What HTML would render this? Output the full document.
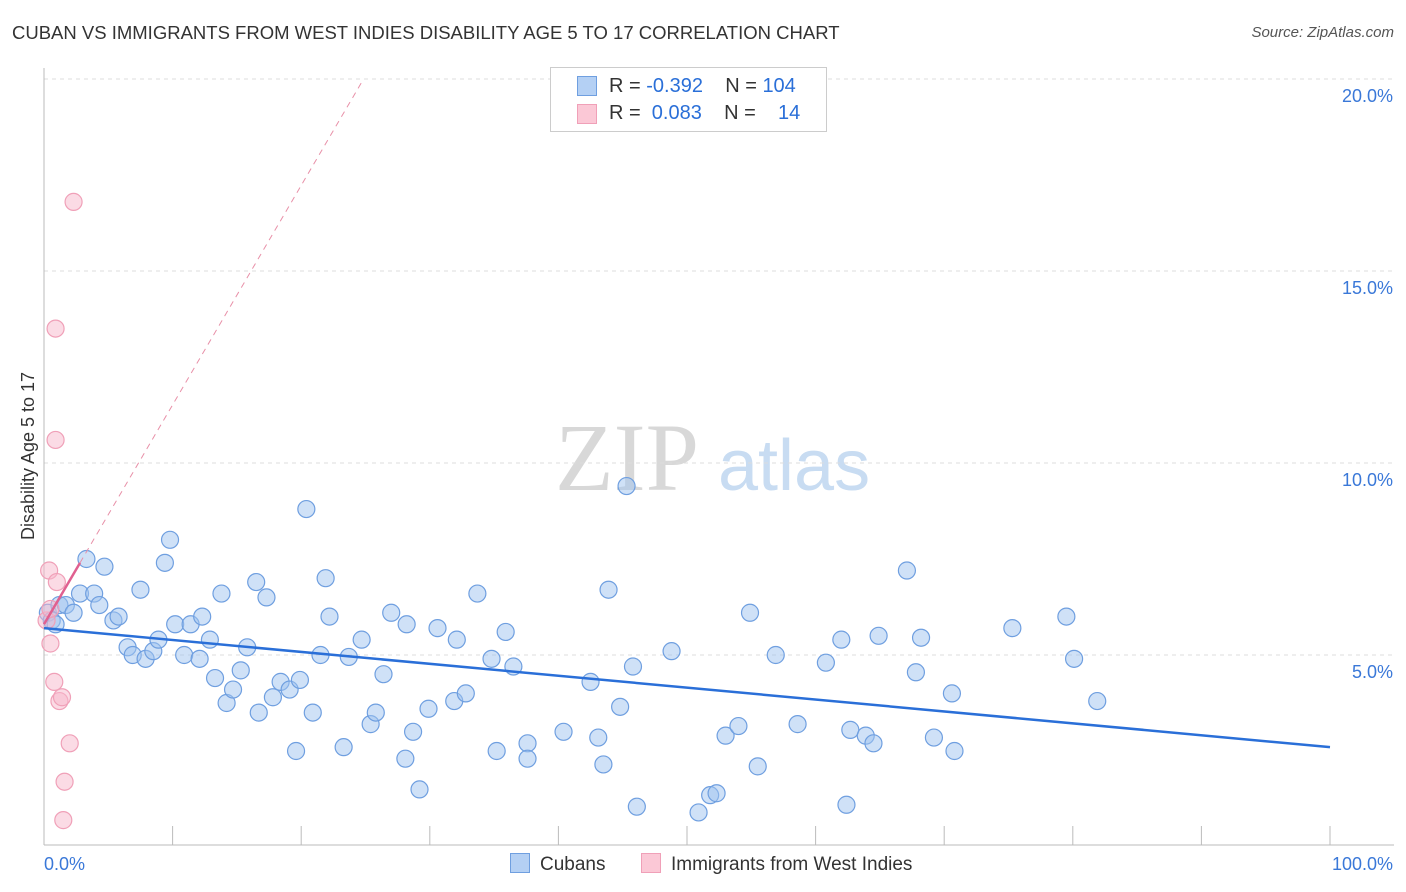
<!DOCTYPE html>
<html><head><meta charset="utf-8"><style>
body{margin:0;background:#fff;font-family:"Liberation Sans",sans-serif;}
#wrap{position:relative;width:1406px;height:892px;overflow:hidden;}
.t{position:absolute;white-space:nowrap;}
</style></head><body>
<div id="wrap">
<div class="t" style="left:12px;top:22px;font-size:18.5px;color:#333;">CUBAN VS IMMIGRANTS FROM WEST INDIES DISABILITY AGE 5 TO 17 CORRELATION CHART</div>
<div class="t" style="right:12px;top:24px;font-size:15px;color:#555;font-style:italic;">Source: ZipAtlas.com</div>
<svg id="svg" width="1406" height="892" style="position:absolute;left:0;top:0;"></svg>
</div>
<script>
const categories=["Cubans","Immigrants from West Indies"];
const yTicks=[5,10,15,20];
const yTickLabels=["5.0%","10.0%","15.0%","20.0%"];
const blueX=[0.3,0.6,0.9,1.2,1.7,2.3,2.8,3.3,3.9,4.3,4.7,5.4,5.8,6.5,6.9,7.5,7.9,8.5,8.9,9.4,9.8,10.2,10.9,11.4,12.1,12.3,12.9,13.3,13.8,14.2,14.7,15.3,15.8,16.5,16.7,17.3,17.8,18.4,19.1,19.6,19.9,20.4,20.9,21.5,21.9,22.2,23.3,23.7,24.7,25.4,25.8,26.4,27.0,28.1,28.2,28.7,29.2,29.9,30.6,31.9,32.1,32.8,33.7,34.8,35.2,35.9,36.5,37.6,37.6,40.4,42.5,43.1,43.5,43.9,44.8,45.3,45.8,46.1,48.8,50.9,51.8,52.3,53.0,54.0,54.9,55.5,56.9,58.6,60.8,62.0,62.4,62.7,63.9,64.5,64.9,67.1,67.8,68.2,69.2,70.6,70.8,75.3,79.5,80.1,81.9];
const blueY=[6.1,5.9,5.8,6.3,6.3,6.1,6.6,7.5,6.6,6.3,7.3,5.9,6.0,5.2,5.0,6.7,4.9,5.1,5.4,7.4,8.0,5.8,5.0,5.8,4.9,6.0,5.4,4.4,6.6,3.75,4.1,4.6,5.2,6.9,3.5,6.5,3.9,4.3,4.1,2.5,4.35,8.8,3.5,5.0,7.0,6.0,2.6,4.95,5.4,3.2,3.5,4.5,6.1,2.3,5.8,3.0,1.5,3.6,5.7,3.8,5.4,4.0,6.6,4.9,2.5,5.6,4.7,2.7,2.3,3.0,4.3,2.85,2.15,6.7,3.65,9.4,4.7,1.05,5.1,0.9,1.35,1.4,2.9,3.15,6.1,2.1,5.0,3.2,4.8,5.4,1.1,3.05,2.9,2.7,5.5,7.2,4.55,5.45,2.85,4.0,2.5,5.7,6.0,4.9,3.8];
const pinkX=[0.2,0.4,0.5,0.8,0.9,0.9,1.0,1.2,1.4,1.6,1.5,2.0,2.3,0.5];
const pinkY=[5.9,7.2,5.3,4.3,10.6,13.5,6.9,3.8,3.9,1.7,0.7,2.7,16.8,6.2];
const blueTrend=[5.7,2.6];
const pinkTrend=[5.8,7.4];
const X0=44,X1=1330,Y0=847,PY=38.4;
const sx=v=>X0+(X1-X0)*v/100, sy=v=>Y0-v*PY;
const svg=document.getElementById('svg');const NS='http://www.w3.org/2000/svg';
function el(t,a,p){const e=document.createElementNS(NS,t);for(const k in a)e.setAttribute(k,a[k]);(p||svg).appendChild(e);return e;}
let w=el('text',{x:555,y:490,'font-size':96,'font-family':'Liberation Serif',fill:'#d8d8d8'});w.textContent='ZIP';


let w2=el('text',{x:718,y:490,'font-size':72,'font-family':'Liberation Sans',fill:'#c8dcf2'});w2.textContent='atlas';


yTicks.forEach((v,i)=>{
 const g=el('line',{x1:X0,x2:1394,y1:sy(v),y2:sy(v),stroke:'#ddd','stroke-dasharray':'4,4'});
 
 
 const t=el('text',{x:1393,y:sy(v)+23,'text-anchor':'end','font-size':18,fill:'#3a78d8'});t.textContent=yTickLabels[i];
 
 
});
let ax=el('line',{x1:X0,x2:X0,y1:68,y2:845,stroke:'#bbb'});


let bx=el('line',{x1:X0,x2:1394,y1:845,y2:845,stroke:'#bbb'});


for(let i=1;i<=10;i++){const tk=el('line',{x1:sx(i*10),x2:sx(i*10),y1:826,y2:845,stroke:'#bbb'});
 
 }
let yt=el('text',{x:34,y:456,'font-size':18,fill:'#333','text-anchor':'middle',transform:'rotate(-90 34 456)'});yt.textContent='Disability Age 5 to 17';


[[0,'0.0%','start',44],[100,'100.0%','end',1393]].forEach(a=>{const t=el('text',{x:a[3],y:870,'font-size':18,fill:'#3a78d8','text-anchor':a[2]});t.textContent=a[1];
 
 });
blueX.forEach((x,i)=>{const c=el('circle',{cx:sx(x),cy:sy(blueY[i]),r:8.5,fill:'rgba(160,196,240,0.5)',stroke:'#6f9fe0','stroke-width':1.2});
 
 });
pinkX.forEach((x,i)=>{const c=el('circle',{cx:sx(x),cy:sy(pinkY[i]),r:8.5,fill:'rgba(248,184,204,0.5)',stroke:'#f0a0b8','stroke-width':1.2});
 
 });
let bt=el('line',{x1:sx(0),y1:sy(blueTrend[0]),x2:sx(100),y2:sy(blueTrend[1]),stroke:'#2a6fd8','stroke-width':2.5});


const slope=(pinkTrend[1]-pinkTrend[0])/2.8;
let pd=el('line',{x1:sx(2.8),y1:sy(pinkTrend[1]),x2:sx(2.8+(20-pinkTrend[1])/slope),y2:sy(20),stroke:'#e890a8','stroke-width':1,'stroke-dasharray':'6,5'});


let pt=el('line',{x1:sx(0),y1:sy(pinkTrend[0]),x2:sx(2.8),y2:sy(pinkTrend[1]),stroke:'#e06090','stroke-width':2.5});


</script>
<div class="t" style="left:550px;top:67px;width:275px;height:63px;border:1px solid #ccc;background:#fff;font-size:20px;">
 <div style="position:absolute;left:26px;top:8px;width:18px;height:18px;background:#b4d0f4;border:1px solid #6f9fe0;"></div>
 <div style="position:absolute;left:58px;top:7px;color:#333;">R = <span style="color:#2a6fd8">-0.392</span>&nbsp;&nbsp;&nbsp; N = <span style="color:#2a6fd8">104</span></div>
 <div style="position:absolute;left:26px;top:36px;width:18px;height:18px;background:#fbc8d6;border:1px solid #f0a0b8;"></div>
 <div style="position:absolute;left:58px;top:34px;color:#333;">R = &nbsp;<span style="color:#2a6fd8">0.083</span>&nbsp;&nbsp;&nbsp; N = &nbsp;&nbsp;&nbsp;<span style="color:#2a6fd8">14</span></div>
</div>
<div class="t" style="left:510px;top:853px;font-size:19px;color:#333;"><span style="display:inline-block;width:18px;height:18px;background:#b4d0f4;border:1px solid #6f9fe0;vertical-align:-3px;margin-right:10px;"></span>Cubans</div>
<div class="t" style="left:641px;top:853px;font-size:19px;color:#333;"><span style="display:inline-block;width:18px;height:18px;background:#fbc8d6;border:1px solid #f0a0b8;vertical-align:-3px;margin-right:10px;"></span>Immigrants from West Indies</div>
</body></html>
